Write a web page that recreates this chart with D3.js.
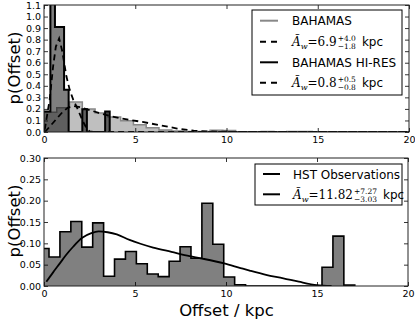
<!DOCTYPE html>
<html>
<head>
<meta charset="utf-8">
<script src="https://cdn.jsdelivr.net/npm/d3@7"></script>
<style>
body{margin:0;background:#fff}
text{font-family:"DejaVu Sans",sans-serif;fill:#000}
</style>
</head>
<body>
<svg id="chart" width="415" height="320"></svg>
<script>
// ---- top panel data ----
// BAHAMAS histogram (bins of 0.7 kpc from 0)
var bahStart = 0, bahWidth = 0.7;
var bahValues = [0.17,0.21,0.26,0.2,0.165,0.13,0.097,0.063,0.037,0.017,0.008,0.004,0.005,0.015,0.012,0.003,0.002,0.005,0.002,0.004,0.005,0.002,0.001,0,0,0,0,0,0];
// BAHAMAS HI-RES histogram (bins of 0.25 kpc)
var hiresStart = -0.15, hiresWidth = 0.25;
var hiresValues = [0.178,0.178,1.15,0.91,0.91,0.365,0,0,0,0.198,0,0,0,0,0.178];
// fitted dashed curves
var bahCurveX = [0.05,0.5,1.0,1.3,1.6,2.0,2.5,3.0,3.6,4.3,5.4,6.4,7.3,8.2,9.0,10,11,20];
var bahCurveY = [0,0.08,0.17,0.21,0.225,0.215,0.19,0.165,0.14,0.115,0.087,0.057,0.03,0.012,0.005,0.002,0,0];
var hiresCurveX = [0.04,0.31,0.5,0.65,0.83,1.0,1.23,1.41,1.6,1.87,2.14,2.33,2.5,2.7,20];
var hiresCurveY = [0.02,0.28,0.57,0.74,0.81,0.7,0.48,0.365,0.28,0.19,0.09,0.034,0.005,0,0];

// ---- bottom panel data ----
// HST observations histogram (bins of 0.6 kpc)
var hstStart = -0.325, hstWidth = 0.6;
var hstValues = [0.088,0.068,0.127,0.151,0.091,0.148,0.023,0.063,0.081,0.052,0.028,0.022,0.058,0.092,0.065,0.194,0.098,0.021,0.003,0,0,0,0,0,0,0,0.044,0.117,0.002];
var hstCurveX = [0.13,0.5,0.87,1.2,1.6,2.1,2.6,3.0,3.5,4.0,4.7,5.3,6.0,7.0,8.0,8.6,9.9,10.8,11.3,12.2,13.15,14.0,15.0,15.8];
var hstCurveY = [0.01,0.032,0.053,0.072,0.092,0.113,0.124,0.128,0.126,0.121,0.108,0.099,0.09,0.08,0.07,0.065,0.053,0.042,0.036,0.026,0.018,0.01,0.002,0];

var xTicks = [0,5,10,15,20];
var topYTicks = [0,0.1,0.2,0.3,0.4,0.5,0.6,0.7,0.8,0.9,1.0,1.1];
var botYTicks = [0,0.05,0.10,0.15,0.20,0.25,0.30];

var svg = d3.select('#chart');

function stepPoints(start, width, values){
  var pts = [[start,0]];
  values.forEach(function(v,i){
    pts.push([start+i*width, v]);
    pts.push([start+(i+1)*width, v]);
  });
  pts.push([start+values.length*width, 0]);
  return pts;
}

function makePanel(box, yMax, yTicks, yFmt, id){
  var x = d3.scaleLinear().domain([0,20]).range([box.left, box.right]);
  var y = d3.scaleLinear().domain([0,yMax]).range([box.bottom, box.top]);
  svg.append('clipPath').attr('id', id)
    .append('rect')
    .attr('x', box.left).attr('y', box.top)
    .attr('width', box.right-box.left).attr('height', box.bottom-box.top);
  var plot = svg.append('g').attr('clip-path','url(#'+id+')');
  return {x:x, y:y, plot:plot, box:box, yTicks:yTicks, yFmt:yFmt};
}

function drawAxes(p){
  var b = p.box;
  var ax = svg.append('g').attr('class','axes');
  ax.append('g').attr('transform','translate(0,'+b.bottom+')')
    .call(d3.axisBottom(p.x).tickValues(xTicks).tickSize(-4).tickSizeOuter(0).tickPadding(4).tickFormat(d3.format('d')));
  ax.append('g').attr('transform','translate(0,'+b.top+')')
    .call(d3.axisTop(p.x).tickValues(xTicks).tickSize(-4).tickSizeOuter(0).tickFormat(''));
  ax.append('g').attr('transform','translate('+b.left+',0)')
    .call(d3.axisLeft(p.y).tickValues(p.yTicks).tickSize(-4).tickSizeOuter(0).tickPadding(3).tickFormat(d3.format(p.yFmt)));
  ax.append('g').attr('transform','translate('+b.right+',0)')
    .call(d3.axisRight(p.y).tickValues(p.yTicks).tickSize(-4).tickSizeOuter(0).tickFormat(''));
  ax.selectAll('.domain').remove();
  ax.selectAll('.tick line').attr('stroke','#000').attr('stroke-width',0.8);
  ax.selectAll('.tick text').style('font-size','9.5px');
  ax.append('rect')
    .attr('x', b.left).attr('y', b.top)
    .attr('width', b.right-b.left).attr('height', b.bottom-b.top)
    .attr('fill','none').attr('stroke','#222').attr('stroke-width',1);
}

function mathEntry(g, x, y, value, plus, minus){
  var t = g.append('text').attr('x', x).attr('y', y)
    .style('font-family','"DejaVu Serif",serif').style('font-size','12px');
  t.append('tspan').style('font-style','italic').text('\u00C3');
  t.append('tspan').style('font-style','italic').style('font-size','8px').attr('dy',3).text('w');
  t.append('tspan').attr('dy',-3).text('=' + value);
  var sx = x + t.node().getComputedTextLength() + 1;
  var sup = g.append('text').attr('x', sx).attr('y', y-5)
    .style('font-family','"DejaVu Serif",serif').style('font-size','7.5px').text('+' + plus);
  var sub = g.append('text').attr('x', sx).attr('y', y+3)
    .style('font-family','"DejaVu Serif",serif').style('font-size','7.5px').text('\u2212' + minus);
  var sw = Math.max(sup.node().getComputedTextLength(), sub.node().getComputedTextLength());
  g.append('text').attr('x', sx+sw+6).attr('y', y).style('font-size','12px').text('kpc');
}

// ================= top panel =================
var topP = makePanel({left:44, right:409, top:5, bottom:132}, 1.1, topYTicks, '.1f', 'clipTop');
var lineTop = d3.line().x(function(d){return topP.x(d[0]);}).y(function(d){return topP.y(d[1]);});

topP.plot.append('path')
  .attr('d', lineTop(stepPoints(bahStart, bahWidth, bahValues)))
  .attr('fill','#808080').attr('fill-opacity',0.5)
  .attr('stroke','#888').attr('stroke-width',1.5);

topP.plot.append('path')
  .attr('d', lineTop(stepPoints(hiresStart, hiresWidth, hiresValues)))
  .attr('fill','#000').attr('fill-opacity',0.5)
  .attr('stroke','#000').attr('stroke-width',2);

topP.plot.append('path')
  .attr('d', lineTop(bahCurveX.map(function(v,i){return [v, bahCurveY[i]];})))
  .attr('fill','none').attr('stroke','#000').attr('stroke-width',1.8).attr('stroke-dasharray','6,4');

topP.plot.append('path')
  .attr('d', lineTop(hiresCurveX.map(function(v,i){return [v, hiresCurveY[i]];})))
  .attr('fill','none').attr('stroke','#000').attr('stroke-width',1.8).attr('stroke-dasharray','6,4');

drawAxes(topP);

// top legend
var lgTop = svg.append('g');
lgTop.append('rect').attr('x',252).attr('y',10).attr('width',150).attr('height',85)
  .attr('fill','#fff').attr('stroke','#000').attr('stroke-width',1);
var topRows = [20.7, 41.7, 62.3, 82.7];
lgTop.append('line').attr('x1',260).attr('x2',278).attr('y1',topRows[0]).attr('y2',topRows[0])
  .attr('stroke','#888').attr('stroke-width',2);
lgTop.append('text').attr('x',292).attr('y',topRows[0]+4.5).style('font-size','12px').text('BAHAMAS');
lgTop.append('line').attr('x1',260).attr('x2',278).attr('y1',topRows[1]).attr('y2',topRows[1])
  .attr('stroke','#000').attr('stroke-width',2).attr('stroke-dasharray','6,5');
mathEntry(lgTop, 292, topRows[1]+4.5, '6.9', '4.0', '1.8');
lgTop.append('line').attr('x1',260).attr('x2',278).attr('y1',topRows[2]).attr('y2',topRows[2])
  .attr('stroke','#000').attr('stroke-width',2);
lgTop.append('text').attr('x',292).attr('y',topRows[2]+4.5).style('font-size','12px').text('BAHAMAS HI-RES');
lgTop.append('line').attr('x1',260).attr('x2',278).attr('y1',topRows[3]).attr('y2',topRows[3])
  .attr('stroke','#000').attr('stroke-width',2).attr('stroke-dasharray','6,5');
mathEntry(lgTop, 292, topRows[3]+4.5, '0.8', '0.5', '0.8');

// ================= bottom panel =================
var botP = makePanel({left:44, right:408, top:158, bottom:286}, 0.30, botYTicks, '.2f', 'clipBot');
var lineBot = d3.line().x(function(d){return botP.x(d[0]);}).y(function(d){return botP.y(d[1]);});

botP.plot.append('path')
  .attr('d', lineBot(stepPoints(hstStart, hstWidth, hstValues)))
  .attr('fill','#808080')
  .attr('stroke','#000').attr('stroke-width',1.6);

botP.plot.append('path')
  .attr('d', d3.line().curve(d3.curveMonotoneX).x(function(d){return botP.x(d[0]);}).y(function(d){return botP.y(d[1]);})
    (hstCurveX.map(function(v,i){return [v, hstCurveY[i]];})))
  .attr('fill','none').attr('stroke','#000').attr('stroke-width',1.8);

drawAxes(botP);

var lgBot = svg.append('g');
lgBot.append('rect').attr('x',255).attr('y',164).attr('width',147).attr('height',41)
  .attr('fill','#fff').attr('stroke','#000').attr('stroke-width',1);
lgBot.append('line').attr('x1',263).attr('x2',280).attr('y1',174).attr('y2',174)
  .attr('stroke','#000').attr('stroke-width',2);
lgBot.append('text').attr('x',293).attr('y',178.5).style('font-size','12px').text('HST Observations');
lgBot.append('line').attr('x1',263).attr('x2',280).attr('y1',194.3).attr('y2',194.3)
  .attr('stroke','#000').attr('stroke-width',2);
mathEntry(lgBot, 293, 198.8, '11.82', '7.27', '3.03');

// axis titles
svg.append('text').attr('transform','translate(20,68) rotate(-90)')
  .attr('text-anchor','middle').style('font-size','16.5px').text('p(Offset)');
svg.append('text').attr('transform','translate(20,221) rotate(-90)')
  .attr('text-anchor','middle').style('font-size','16.5px').text('p(Offset)');
svg.append('text').attr('x',226.5).attr('y',315.5)
  .attr('text-anchor','middle').style('font-size','16.5px').text('Offset / kpc');
</script>
</body>
</html>
